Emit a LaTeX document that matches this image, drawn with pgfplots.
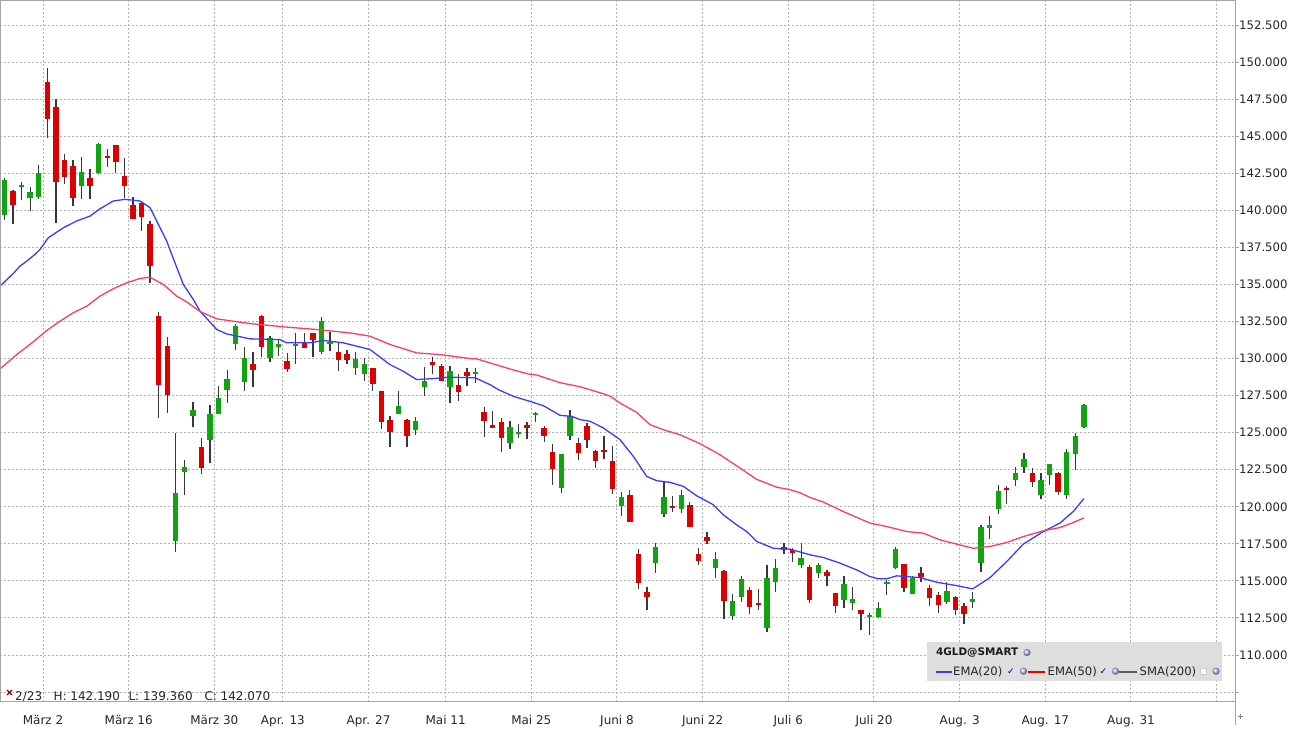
\documentclass[border=0pt]{standalone}
\usepackage{pgfplots}
\pgfplotsset{compat=1.18}
\usepackage{pgfplotstable}
\usepackage{fontspec}
\setmainfont{DejaVu Sans}
\definecolor{upg}{RGB}{16,165,16}
\definecolor{dnr}{RGB}{220,0,0}
\definecolor{wick}{RGB}{55,55,55}
\definecolor{emab}{RGB}{60,60,255}
\definecolor{emar}{RGB}{255,60,100}
\definecolor{gridc}{RGB}{178,178,178}
\definecolor{axc}{RGB}{165,165,165}
\definecolor{legbg}{RGB}{222,222,222}

\pgfplotstableread{
i O H L C
0 139.68 142.19 139.36 142.07
2 141.58 141.91 140.70 141.71
3 140.83 141.55 139.95 141.22
4 140.90 143.04 140.74 142.50
9 141.62 143.58 140.74 142.57
11 142.50 144.55 142.45 144.46
20 117.72 124.98 116.98 120.93
21 122.32 123.18 120.81 122.66
22 126.10 127.05 125.39 126.55
24 124.48 126.89 122.95 126.28
25 126.26 128.18 126.26 127.32
26 127.86 129.26 127.00 128.65
27 130.95 132.30 130.61 132.23
28 128.40 130.81 127.79 130.07
31 130.07 131.55 129.76 131.42
32 130.76 131.35 130.16 130.95
34 130.83 131.73 129.60 130.95
37 130.45 132.82 130.34 132.55
38 131.01 131.82 130.54 131.13
41 129.35 130.45 128.87 129.98
42 128.99 130.05 128.47 129.66
46 126.26 127.79 126.26 126.78
48 125.18 126.06 124.82 125.77
49 128.09 129.43 127.45 128.47
52 128.09 129.53 127.00 129.19
55 128.96 129.37 128.36 129.08
59 124.30 125.77 123.90 125.36
60 124.91 125.61 124.62 125.02
62 126.20 126.42 125.71 126.30
65 121.27 123.54 120.95 123.54
66 124.80 126.50 124.48 126.10
72 120.07 120.97 119.41 120.64
76 116.20 117.55 115.52 117.28
77 119.52 121.71 119.34 120.64
79 119.84 121.15 119.61 120.78
83 115.86 116.94 115.18 116.49
85 112.66 114.12 112.36 113.67
86 113.94 115.34 113.56 115.14
89 111.85 116.06 111.57 115.23
90 114.91 116.47 114.28 115.86
93 116.08 117.55 115.90 116.53
95 115.52 116.24 115.18 116.08
98 113.69 115.34 113.20 114.80
99 113.49 114.61 113.04 113.81
101 112.57 112.82 111.35 112.68
102 112.59 113.58 112.52 113.20
103 114.78 115.07 114.05 114.95
104 115.86 117.32 115.81 117.16
106 114.10 115.30 114.10 115.18
110 113.60 114.91 113.42 114.32
113 113.60 114.28 113.15 113.81
114 116.24 118.78 115.63 118.61
115 118.60 119.39 117.84 118.78
116 119.86 121.44 119.52 121.04
118 121.82 122.70 121.40 122.25
119 122.66 123.61 122.25 123.20
121 120.81 122.30 120.54 121.78
122 122.16 122.90 121.44 122.86
124 120.81 123.92 120.54 123.68
125 123.56 124.98 122.50 124.75
126 125.38 126.93 125.30 126.84
}\up

\pgfplotstableread{
i O H L C
1 141.28 141.35 139.10 140.36
5 148.63 149.57 144.86 146.13
6 147.00 147.50 139.16 141.91
7 143.38 143.78 141.76 142.25
8 142.97 143.38 140.29 140.81
10 142.16 142.77 140.74 141.62
12 143.65 144.12 142.90 143.51
13 144.39 144.44 142.50 143.24
14 142.30 143.51 140.81 141.62
15 140.36 140.88 139.41 139.41
16 140.49 140.63 138.60 139.55
17 139.07 139.28 135.11 136.24
18 132.90 133.16 126.00 128.20
19 130.88 131.47 126.33 127.52
23 124.02 124.63 122.23 122.60
29 129.66 130.47 128.06 129.26
30 132.84 132.91 130.09 130.76
33 129.86 130.38 129.07 129.28
35 131.15 131.73 130.68 130.74
36 131.73 131.73 130.09 131.24
39 130.47 131.10 129.14 129.89
40 130.34 130.61 129.60 129.93
43 129.39 129.39 127.79 128.26
44 127.79 127.79 125.25 125.70
45 125.88 126.10 124.03 125.05
47 125.84 125.95 124.03 124.75
50 129.75 130.11 128.99 129.55
51 129.48 129.66 128.47 128.47
53 128.24 128.99 127.11 127.72
54 129.12 129.37 128.18 128.80
56 126.37 126.74 124.71 125.77
57 125.49 126.49 125.30 125.30
58 125.74 125.97 123.70 124.66
61 125.49 125.70 124.58 125.30
63 125.29 125.43 124.37 124.80
64 123.70 124.23 121.49 122.57
67 124.28 124.62 123.18 123.65
68 125.43 125.66 123.94 124.53
69 123.74 123.85 122.64 123.11
70 123.83 124.75 123.24 123.72
71 123.06 124.07 120.88 121.22
73 120.78 121.15 118.97 118.97
74 116.82 117.14 114.48 114.88
75 114.28 114.61 113.04 113.90
78 120.07 120.74 119.68 119.89
80 120.12 120.34 118.63 118.63
81 116.82 117.20 116.10 116.37
82 117.95 118.33 117.48 117.72
84 115.68 115.74 112.41 113.67
87 114.39 114.61 112.77 113.26
88 113.47 114.43 113.04 113.36
91 117.26 117.55 116.82 117.09
92 117.09 117.20 116.30 116.91
94 115.97 116.08 113.49 113.74
96 115.61 115.74 114.68 115.36
97 114.21 114.21 112.82 113.33
100 113.01 113.01 111.69 112.79
105 116.15 116.15 114.24 114.51
107 115.52 115.97 114.91 115.27
108 114.55 114.73 113.33 113.88
109 114.05 114.23 112.82 113.38
111 113.88 113.99 112.70 113.04
112 113.33 113.49 112.07 112.77
117 121.24 121.37 120.20 121.13
120 122.25 122.60 121.31 121.64
123 122.25 122.32 120.81 120.97
}\dn

\begin{document}
\begin{tikzpicture}
\begin{axis}[
  scale only axis, width=1235pt, height=702pt,
  xmin=-0.52, xmax=143.64, ymin=106.83, ymax=154.19,
  axis line style={draw=axc, line width=1pt},
  tick align=outside, major tick length=4pt,
  ytick={110,112.5,...,152.5},
  extra y ticks={107.5}, extra y tick labels={},
  extra y tick style={grid=major, tick style={draw=none}},
  ytick pos=right, yticklabel pos=right,
  y tick style={draw=axc, line width=1pt},
  xtick={4.5,14.5,24.5,32.5,42.5,51.5,61.5,71.5,81.5,91.5,101.5,111.5,121.5,131.5,141.5},
  xticklabels={März 2,März 16,März 30,Apr. 13,Apr. 27,Mai 11,Mai 25,Juni 8,Juni 22,Juli 6,Juli 20,Aug. 3,Aug. 17,Aug. 31,{}},
  x tick style={draw=none},
  grid=major,
  grid style={draw=gridc, dash pattern=on 2pt off 2pt, line width=1pt},
  /pgf/number format/.cd, fixed, fixed zerofill, precision=3, 1000 sep={}, assume math mode=true,
  /pgfplots/.cd,
  y tick label style={font=\fontsize{11.7}{14}\selectfont, text=black!85, anchor=west, inner sep=0pt},
  x tick label style={font=\fontsize{12}{14}\selectfont, text=black!85, anchor=base, inner sep=0pt, yshift=-18.7pt},
]
% wicks
\addplot[draw=none, no markers, forget plot, error bars/.cd, y dir=both, y explicit, error mark=none,
  error bar style={draw=wick, line width=1.3pt}]
  table[x=i, y expr={(\thisrow{H}+\thisrow{L})/2}, y error expr={(\thisrow{H}-\thisrow{L})/2}] {\up};
\addplot[draw=none, no markers, forget plot, error bars/.cd, y dir=both, y explicit, error mark=none,
  error bar style={draw=wick, line width=1.3pt}]
  table[x=i, y expr={(\thisrow{H}+\thisrow{L})/2}, y error expr={(\thisrow{H}-\thisrow{L})/2}] {\dn};
% bodies
\addplot[draw=none, no markers, forget plot, error bars/.cd, y dir=both, y explicit, error mark=none,
  error bar style={draw=upg, line width=5.4pt}]
  table[x=i, y expr={(\thisrow{O}+\thisrow{C})/2}, y error expr={max(abs(\thisrow{C}-\thisrow{O})/2,0.07)}] {\up};
\addplot[draw=none, no markers, forget plot, error bars/.cd, y dir=both, y explicit, error mark=none,
  error bar style={draw=dnr, line width=5.4pt}]
  table[x=i, y expr={(\thisrow{O}+\thisrow{C})/2}, y error expr={max(abs(\thisrow{C}-\thisrow{O})/2,0.07)}] {\dn};
% EMA(20)
\addplot[emab, line width=1.3pt, mark=none] coordinates {
(-0.52,134.88) (1.03,135.74) (1.82,136.24) (2.6,136.57) (3.57,137.03) (4.15,137.36) (5.12,138.15) (6.87,138.82) (8.43,139.28) (9.99,139.61) (11.15,140.1) (12.71,140.63) (14.07,140.74) (15.82,140.63) (16.99,140.18) (18.94,137.93) (19.52,137.03) (20.88,135.0) (22.04,133.99) (22.83,133.2) (24.78,131.96) (25.94,131.66) (28.66,131.33) (32.16,131.28) (32.95,131.06) (35.67,131.06) (37.22,131.22) (39.55,131.06) (42.67,130.61) (45.0,129.59) (46.56,129.14) (48.12,128.58) (50.06,128.65) (52.01,128.74) (54.93,128.7) (56.68,128.24) (57.65,127.9) (59.4,127.45) (61.35,127.11) (62.9,126.82) (64.85,126.17) (66.21,126.1) (67.18,125.88) (68.35,125.77) (69.9,125.32) (71.85,124.53) (73.41,123.4) (74.97,122.05) (76.14,121.76) (77.69,121.65) (79.24,121.38) (80.81,120.74) (82.74,120.14) (83.91,119.46) (85.47,118.78) (86.64,118.33) (87.81,117.66) (89.75,117.2) (91.7,117.14) (94.03,116.76) (95.58,116.58) (97.53,116.2) (99.48,115.74) (101.03,115.29) (102.0,115.14) (102.98,115.14) (104.15,115.34) (106.87,115.22) (108.82,114.91) (111.15,114.68) (113.02,114.46) (115.04,115.22) (116.99,116.3) (118.93,117.48) (121.26,118.33) (123.21,118.9) (124.76,119.68) (126.0,120.55)
};
% EMA(50)
\addplot[emar, line width=1.3pt, mark=none] coordinates {
(-0.52,129.3) (1.43,130.27) (3.37,131.13) (4.93,131.89) (6.48,132.52) (8.04,133.09) (9.6,133.53) (11.15,134.21) (12.71,134.71) (14.27,135.11) (15.82,135.4) (16.99,135.49) (18.54,135.0) (20.11,134.21) (21.27,133.82) (22.83,133.17) (24.78,132.68) (26.71,132.52) (28.66,132.36) (32.55,132.14) (36.45,131.96) (40.33,131.73) (42.67,131.51) (45.0,130.95) (48.12,130.38) (50.84,130.27) (54.34,130.0) (55.12,129.98) (57.45,129.57) (59.4,129.23) (61.15,128.96) (62.13,128.89) (64.85,128.37) (67.18,128.1) (69.13,127.76) (70.68,127.47) (71.85,127.0) (73.8,126.37) (75.35,125.54) (76.91,125.2) (78.85,124.86) (81.19,124.26) (83.52,123.51) (85.86,122.61) (87.81,121.85) (90.15,121.32) (91.7,121.15) (92.86,120.95) (94.03,120.63) (95.58,120.32) (97.91,119.68) (101.03,118.9) (102.98,118.67) (105.31,118.33) (107.25,118.22) (109.2,117.77) (111.15,117.48) (113.09,117.2) (115.04,117.32) (116.99,117.59) (118.93,117.99) (121.26,118.38) (123.21,118.6) (124.76,118.94) (126.0,119.25)
};
\end{axis}
% frame edges at the picture border
\draw[axc, line width=1pt] (0.5pt,0pt) -- (0.5pt,702pt);
\draw[axc, line width=1pt] (0pt,701.5pt) -- (1235pt,701.5pt);
\draw[axc, line width=1pt] (1235pt,0pt) -- (1235pt,-23pt);
\draw[axc!80!black, line width=1pt] (1237.5pt,-14.7pt) -- (1242.5pt,-14.7pt) (1240pt,-12.2pt) -- (1240pt,-17.2pt);
% info line
\draw[dnr!65!black, line width=1.2pt] (7pt,7pt) -- (12pt,12pt) (7pt,12pt) -- (12pt,7pt);
\begin{scope}[every node/.style={anchor=base west, inner sep=0pt, font=\fontsize{12}{14}\selectfont, text=black!85}]
\node at (15pt,1.5pt) {2/23};
\node at (53.3pt,1.5pt) {H: 142.190};
\node at (128.3pt,1.5pt) {L: 139.360};
\node at (204.3pt,1.5pt) {C: 142.070};
\end{scope}
% legend box
\fill[legbg] (927.3pt,21.3pt) rectangle (1222.3pt,60.3pt);
\node[anchor=west, inner sep=0pt, text=black!90] at (936pt,49.5pt) {\fontsize{10.4}{12}\selectfont\bfseries 4GLD@SMART};
\shade[ball color=blue!25!white] (1027pt,49.5pt) circle (3.6pt);
\draw[emab, line width=1.8pt] (936pt,30.3pt) -- (952pt,30.3pt);
\node[anchor=west, inner sep=0pt, text=black!85] at (953pt,30.3pt) {\fontsize{11.6}{13}\selectfont EMA(20)};
\node[inner sep=0pt, text=blue!80!black] at (1011pt,30.3pt) {\fontsize{9}{10}\selectfont\bfseries ✓};
\shade[ball color=blue!25!white] (1023.5pt,30.8pt) circle (3.6pt);
\draw[red!90!black, line width=1.8pt] (1027.5pt,30.3pt) -- (1045pt,30.3pt);
\node[anchor=west, inner sep=0pt, text=black!85] at (1047.5pt,30.3pt) {\fontsize{11.6}{13}\selectfont EMA(50)};
\node[inner sep=0pt, text=blue!80!black] at (1103.5pt,30.3pt) {\fontsize{9}{10}\selectfont\bfseries ✓};
\shade[ball color=blue!25!white] (1115.5pt,30.8pt) circle (3.6pt);
\draw[black!65, line width=1.8pt] (1119pt,30.3pt) -- (1137pt,30.3pt);
\node[anchor=west, inner sep=0pt, text=black!85] at (1139.5pt,30.3pt) {\fontsize{11.6}{13}\selectfont SMA(200)};
\filldraw[fill=white, draw=black!20, line width=0.5pt] (1200.5pt,27.3pt) rectangle (1206.5pt,33.3pt);
\shade[ball color=blue!25!white] (1216pt,30.8pt) circle (3.6pt);
\pgfresetboundingbox
\path[use as bounding box] (0pt,-28pt) rectangle (1300pt,702pt);
\end{tikzpicture}
\end{document}
